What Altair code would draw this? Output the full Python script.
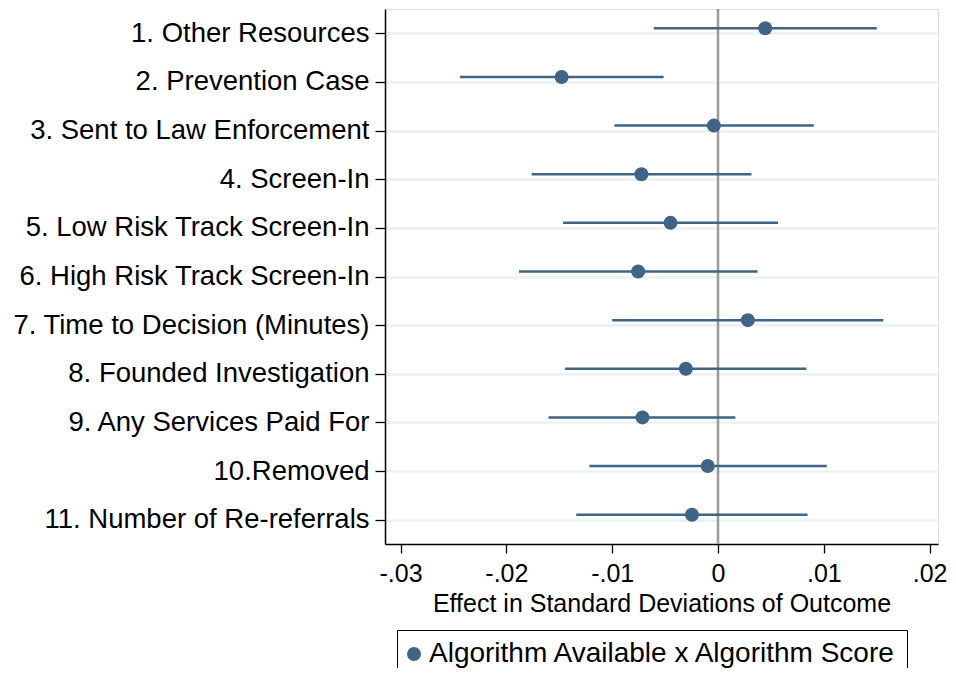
import altair as alt
import pandas as pd

outcomes = [
    "1. Other Resources",
    "2. Prevention Case",
    "3. Sent to Law Enforcement",
    "4. Screen-In",
    "5. Low Risk Track Screen-In",
    "6. High Risk Track Screen-In",
    "7. Time to Decision (Minutes)",
    "8. Founded Investigation",
    "9. Any Services Paid For",
    "10.Removed",
    "11. Number of Re-referrals",
]
estimates = [0.00446, -0.01478, -0.00039, -0.00724, -0.00449, -0.00755,
             0.00282, -0.00304, -0.00714, -0.00097, -0.00246]
ci_low = [-0.00607, -0.02439, -0.00979, -0.01761, -0.01464, -0.01881,
          -0.01000, -0.01447, -0.01602, -0.01216, -0.01340]
ci_high = [0.01500, -0.00514, 0.00905, 0.00316, 0.00567, 0.00374,
           0.01562, 0.00836, 0.00164, 0.01028, 0.00846]
series_name = "Algorithm Available x Algorithm Score"
x_ticks = [-0.03, -0.02, -0.01, 0.0, 0.01, 0.02]

df = pd.DataFrame({
    "outcome": outcomes,
    "est": estimates,
    "lo": ci_low,
    "hi": ci_high,
    "series": [series_name] * len(outcomes),
})
zero_df = pd.DataFrame({"x": [0.0]})

FONT = "Liberation Sans"
BLUE = "#3f6485"

xscale = alt.Scale(domain=[-0.03147, 0.02079], nice=False, zero=False)
yscale = alt.Scale(type="point", padding=0.5)

x_axis = alt.Axis(
    values=x_ticks,
    labelExpr="datum.value == 0 ? '0' : replace(replace(format(datum.value, '.2f'), '0.', '.'), '\u2212', '-')",
    title="Effect in Standard Deviations of Outcome",
    titleFontSize=25, titleFontWeight="normal", titleColor="black", titleFont=FONT,
    titlePadding=5,
    labelFontSize=25, labelColor="black", labelFont=FONT, labelPadding=8,
    tickSize=9, tickColor="black", tickWidth=1.3,
    domainColor="black", domainWidth=1.5, grid=False,
)
y_axis = alt.Axis(
    title=None,
    labelFontSize=27.5, labelColor="black", labelFont=FONT, labelPadding=6,
    labelLimit=400,
    tickSize=10, tickColor="black", tickWidth=1.3,
    domainColor="black", domainWidth=1.5,
    grid=True, gridColor="#eaf1f3", gridWidth=2.5,
)

base = alt.Chart(df)

grid_layer = base.mark_point(opacity=0).encode(
    x=alt.X("est:Q", scale=xscale, axis=x_axis),
    y=alt.Y("outcome:N", sort=outcomes, scale=yscale, axis=y_axis),
)

zero_line = alt.Chart(zero_df).mark_rule(color="#9a9a9a", strokeWidth=2.5).encode(
    x=alt.X("x:Q", scale=xscale)
)

ci = base.mark_rule(color=BLUE, strokeWidth=2.5, yOffset=-5).encode(
    x=alt.X("lo:Q", scale=xscale),
    x2="hi:Q",
    y=alt.Y("outcome:N", sort=outcomes, scale=yscale),
)

pts = base.mark_point(filled=True, shape="circle", size=196, opacity=1, yOffset=-5).encode(
    x=alt.X("est:Q", scale=xscale),
    y=alt.Y("outcome:N", sort=outcomes, scale=yscale),
    color=alt.Color(
        "series:N",
        scale=alt.Scale(domain=[series_name], range=[BLUE]),
        legend=alt.Legend(
            title=None,
            orient="none",
            legendX=12,
            legendY=621,
            labelFontSize=28,
            labelFont=FONT,
            labelColor="black",
            labelLimit=800,
            symbolSize=196,
            symbolType="circle",
            symbolStrokeWidth=0,
            symbolOffset={"expr": "-7"},
            labelOffset=1,
            padding=10,
            strokeColor="black",
            fillColor="white",
            cornerRadius=0,
        ),
    ),
)

chart = alt.layer(grid_layer, zero_line, ci, pts).properties(
    width=553,
    height=535,
    autosize=alt.AutoSizeParams(type="none"),
    padding={"left": 377, "top": 1, "right": 10, "bottom": 124},
).configure_view(stroke=None).configure(background="white")

chart.save("out.html", embed_options={"renderer": "svg", "actions": False})
